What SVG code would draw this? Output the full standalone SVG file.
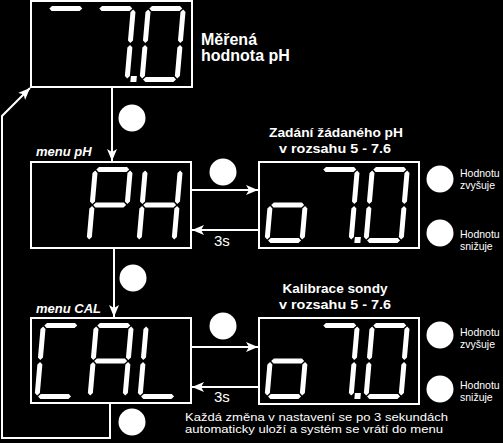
<svg xmlns="http://www.w3.org/2000/svg" xmlns:xlink="http://www.w3.org/1999/xlink" width="503" height="443" viewBox="0 0 503 443">
<style>
.bx{fill:none;stroke:#fff;stroke-width:2}
.ln{fill:none;stroke:#fff;stroke-width:2}
.dot{fill:#fff}
text{fill:#fff;font-family:"Liberation Sans",Arial,sans-serif}
.t1{font-size:16px;font-weight:bold}
.t2{font-size:13px;font-weight:bold}
.mn{font-size:13px;font-weight:bold;font-style:italic}
.sm{font-size:10.5px}
.s3{font-size:15px}
.nt{font-size:11px}
</style>
<defs>
<marker id="ah" markerUnits="userSpaceOnUse" markerWidth="14" markerHeight="12" refX="12" refY="5" orient="auto">
<path d="M0,0 L12,5 L0,10 L3,5 z" fill="#fff"/>
</marker>
<polygon id="h" fill="#fff" points="3.5,0 6,-2.5 34,-2.5 36.5,0 34,2.5 6,2.5"/>
<polygon id="v" fill="#fff" points="0,1 2.5,3.5 2.5,32 0,34.5 -2.5,32 -2.5,3.5"/>
<use id="sa" href="#h" y="2.5"/>
<use id="sg" href="#h" y="38"/>
<use id="sd" href="#h" y="73.5"/>
<use id="sf" href="#v" x="2.5" y="2.5"/>
<use id="se" href="#v" x="2.5" y="38"/>
<use id="sb" href="#v" x="37.5" y="2.5"/>
<use id="sc" href="#v" x="37.5" y="38"/>
<rect id="dp" x="41" y="70" width="6" height="6" fill="#fff"/>
<g id="Dm"><use href="#sa"/></g>
<g id="D7p"><use href="#sa"/><use href="#sb"/><use href="#sc"/><use href="#dp"/></g>
<g id="D0"><use href="#sa"/><use href="#sb"/><use href="#sc"/><use href="#sd"/><use href="#se"/><use href="#sf"/></g>
<g id="DP"><use href="#sa"/><use href="#sb"/><use href="#sf"/><use href="#se"/><use href="#sg"/></g>
<g id="DH"><use href="#sf"/><use href="#se"/><use href="#sb"/><use href="#sc"/><use href="#sg"/></g>
<g id="Do"><use href="#sg"/><use href="#sc"/><use href="#sd"/><use href="#se"/></g>
<g id="DC"><use href="#sa"/><use href="#sf"/><use href="#se"/><use href="#sd"/></g>
<g id="DA"><use href="#sa"/><use href="#sb"/><use href="#sc"/><use href="#se"/><use href="#sf"/><use href="#sg"/></g>
<g id="DL"><use href="#sf"/><use href="#se"/><use href="#sd"/></g>
</defs>
<rect width="503" height="443" fill="#000"/>

<g id="connectors">
<line class="ln" x1="112" y1="88" x2="112" y2="161" marker-end="url(#ah)"/>
<line class="ln" x1="114" y1="249" x2="114" y2="317" marker-end="url(#ah)"/>
<line class="ln" x1="192" y1="190" x2="258" y2="190" marker-end="url(#ah)"/>
<line class="ln" x1="258" y1="230" x2="192" y2="230" marker-end="url(#ah)"/>
<line class="ln" x1="192" y1="347" x2="258" y2="347" marker-end="url(#ah)"/>
<line class="ln" x1="258" y1="387" x2="192" y2="387" marker-end="url(#ah)"/>
<path class="ln" d="M110,404 V438 H2 V116 L30,88" marker-end="url(#ah)"/>
<text class="s3" x="214" y="246">3s</text>
<text class="s3" x="214" y="402">3s</text>
</g>

<g id="buttons">
<circle class="dot" cx="132" cy="118" r="13.5"/>
<circle class="dot" cx="223" cy="172" r="13.5"/>
<circle class="dot" cx="133" cy="278" r="13.5"/>
<circle class="dot" cx="223" cy="326" r="13.5"/>
<circle class="dot" cx="132" cy="422" r="13.5"/>
</g>

<g id="measured">
<rect class="bx" x="31" y="1" width="161" height="86"/>
<use href="#Dm" transform="translate(46,6) skewX(-5)"/>
<use href="#D7p" transform="translate(96,6) skewX(-5)"/>
<use href="#D0" transform="translate(146,6) skewX(-5)"/>
<text class="t1" x="201" y="45">Měřená</text>
<text class="t1" x="201" y="61">hodnota pH</text>
</g>

<g id="menu-ph">
<text class="mn" x="36" y="156">menu pH</text>
<rect class="bx" x="31" y="162" width="160" height="86"/>
<use href="#DP" transform="translate(93,167) skewX(-5)"/>
<use href="#DH" transform="translate(143,167) skewX(-5)"/>
</g>

<g id="set-ph">
<text class="t2" x="336" y="137" text-anchor="middle" textLength="134" lengthAdjust="spacingAndGlyphs">Zadání žádaného pH</text>
<text class="t2" x="335" y="153" text-anchor="middle" textLength="112" lengthAdjust="spacingAndGlyphs">v rozsahu 5 - 7.6</text>
<rect class="bx" x="259" y="162" width="160" height="86"/>
<use href="#Do" transform="translate(271,167) skewX(-5)"/>
<use href="#D7p" transform="translate(320,167) skewX(-5)"/>
<use href="#D0" transform="translate(370,167) skewX(-5)"/>
<circle class="dot" cx="440" cy="179" r="13.5"/>
<circle class="dot" cx="440" cy="233" r="13.5"/>
<text class="sm" x="460" y="177">Hodnotu</text>
<text class="sm" x="460" y="189">zvyšuje</text>
<text class="sm" x="460" y="238">Hodnotu</text>
<text class="sm" x="460" y="250">snižuje</text>
</g>

<g id="menu-cal">
<text class="mn" x="36" y="313">menu CAL</text>
<rect class="bx" x="31" y="318" width="160" height="85"/>
<use href="#DC" transform="translate(41,323) skewX(-5)"/>
<use href="#DA" transform="translate(94,323) skewX(-5)"/>
<use href="#DL" transform="translate(144,323) skewX(-5)"/>
</g>

<g id="set-cal">
<text class="t2" x="335" y="293" text-anchor="middle" textLength="105" lengthAdjust="spacingAndGlyphs">Kalibrace sondy</text>
<text class="t2" x="335" y="309" text-anchor="middle" textLength="112" lengthAdjust="spacingAndGlyphs">v rozsahu 5 - 7.6</text>
<rect class="bx" x="259" y="318" width="160" height="86"/>
<use href="#Do" transform="translate(271,323) skewX(-5)"/>
<use href="#D7p" transform="translate(320,323) skewX(-5)"/>
<use href="#D0" transform="translate(370,323) skewX(-5)"/>
<circle class="dot" cx="440" cy="335" r="13.5"/>
<circle class="dot" cx="440" cy="389" r="13.5"/>
<text class="sm" x="460" y="336">Hodnotu</text>
<text class="sm" x="460" y="348">zvyšuje</text>
<text class="sm" x="460" y="389">Hodnotu</text>
<text class="sm" x="460" y="401">snižuje</text>
</g>

<g id="note">
<text class="nt" x="185" y="421" textLength="263" lengthAdjust="spacingAndGlyphs">Každá změna v nastavení se po 3 sekundách</text>
<text class="nt" x="185" y="433" textLength="258" lengthAdjust="spacingAndGlyphs">automaticky uloží a systém se vrátí do menu</text>
</g>
</svg>
